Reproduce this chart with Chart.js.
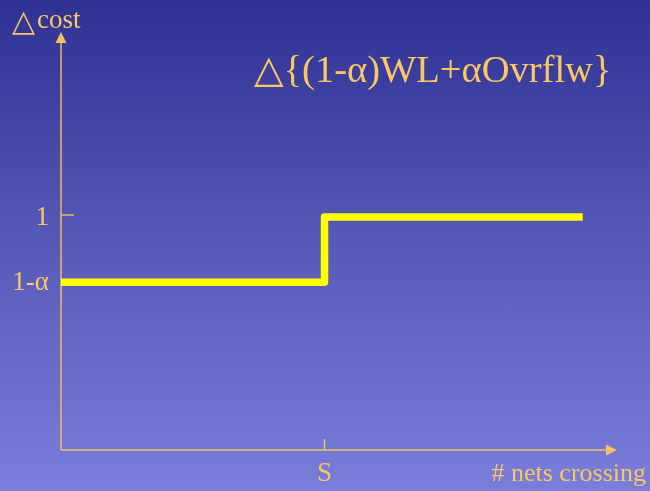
<!DOCTYPE html>
<html>
<head>
<meta charset="utf-8">
<script src="https://cdn.jsdelivr.net/npm/chart.js@4/dist/chart.umd.min.js"></script>
<style>
  html, body { margin: 0; padding: 0; }
  body {
    width: 650px; height: 491px; overflow: hidden;
    background: linear-gradient(to bottom, #2f3193 0%, #5456b5 45%, #7a7edb 100%);
  }
  #wrap { width: 650px; height: 491px; position: relative; }
</style>
</head>
<body>
<div id="wrap"><canvas id="c" width="650" height="491"></canvas></div>
<script>
// Step in cost when a net crosses the capacity threshold S
const alpha = 0.28;
const netsCrossing = [0, 10, 19.8];          // x: start, threshold S, end
const deltaCost = [1 - alpha, 1, 1];          // y: cost change on each segment
const thresholdS = 10;
const yTicks = [1 - alpha, 1];
const yTickLabels = ['1-\u03b1', '1'];
const xTickLabels = ['S'];
const xMax = 21.1;
const yMax = 1.794;

const titleText = '\u25b3{(1-\u03b1)WL+\u03b1Ovrflw}';
const deltaSign = '\u25b3';
const yAxisWord = 'cost';
const xAxisTitle = '# nets crossing';

const AXIS = '#f3c263';
const TEXT = '#f9c862';
const SERIF = "'Liberation Serif', 'Times New Roman', 'DejaVu Sans', serif";

const axesPlugin = {
  id: 'arrowAxes',
  beforeDatasetsDraw(chart) {
    const { ctx } = chart;
    const xs = chart.scales.x, ys = chart.scales.y;
    const x0 = xs.getPixelForValue(0), y0 = ys.getPixelForValue(0);
    const xEnd = xs.getPixelForValue(xMax), yTop = ys.getPixelForValue(yMax);
    ctx.save();
    ctx.strokeStyle = AXIS;
    ctx.fillStyle = AXIS;
    ctx.lineWidth = 1.4;
    // y axis with arrow
    ctx.beginPath();
    ctx.moveTo(x0, y0);
    ctx.lineTo(x0, yTop + 10);
    ctx.stroke();
    ctx.beginPath();
    ctx.moveTo(x0, yTop);
    ctx.lineTo(x0 - 5.5, yTop + 11);
    ctx.lineTo(x0 + 5.5, yTop + 11);
    ctx.closePath();
    ctx.fill();
    // x axis with arrow
    ctx.beginPath();
    ctx.moveTo(x0, y0);
    ctx.lineTo(xEnd - 10, y0);
    ctx.stroke();
    ctx.beginPath();
    ctx.moveTo(xEnd, y0);
    ctx.lineTo(xEnd - 11, y0 - 5.5);
    ctx.lineTo(xEnd - 11, y0 + 5.5);
    ctx.closePath();
    ctx.fill();
    // tick mark at y = 1
    const y1 = ys.getPixelForValue(1) - 2;
    ctx.beginPath();
    ctx.moveTo(x0, y1);
    ctx.lineTo(x0 + 13, y1);
    ctx.stroke();
    // tick mark at S
    const xS = xs.getPixelForValue(thresholdS);
    ctx.beginPath();
    ctx.moveTo(xS, y0);
    ctx.lineTo(xS, y0 - 11);
    ctx.stroke();

    // labels
    ctx.fillStyle = TEXT;
    ctx.font = '27px ' + SERIF;
    ctx.textBaseline = 'middle';
    ctx.textAlign = 'right';
    yTicks.forEach((v, i) => {
      ctx.fillText(yTickLabels[i], x0 - 12, ys.getPixelForValue(v) + 1);
    });
    ctx.textBaseline = 'alphabetic';
    ctx.textAlign = 'center';
    ctx.fillText(xTickLabels[0], xS, 481);
    ctx.font = '26px ' + SERIF;
    ctx.textAlign = 'right';
    ctx.fillText(xAxisTitle, 646, 481);
    // y-axis title: delta sign followed by "cost"
    ctx.textAlign = 'left';
    ctx.font = '30px ' + SERIF;
    ctx.fillText(deltaSign, 12, 31);
    ctx.font = '27px ' + SERIF;
    ctx.fillText(yAxisWord, 37, 28);
    ctx.font = '38.5px ' + SERIF;
    ctx.fillText(titleText, 254, 82);
    ctx.restore();
  }
};

new Chart(document.getElementById('c'), {
  type: 'line',
  data: {
    datasets: [{
      data: netsCrossing.map((x, i) => ({ x, y: deltaCost[i] })),
      borderColor: '#ffff00',
      borderWidth: 7.5,
      stepped: true,
      borderJoinStyle: 'round',
      pointRadius: 0,
      fill: false
    }]
  },
  options: {
    responsive: false,
    animation: false,
    layout: { padding: { left: 61, right: 33, top: 32, bottom: 41 } },
    scales: {
      x: { type: 'linear', min: 0, max: xMax, display: false },
      y: { type: 'linear', min: 0, max: yMax, display: false }
    },
    plugins: { legend: { display: false }, tooltip: { enabled: false } }
  },
  plugins: [axesPlugin]
});
</script>
</body>
</html>
